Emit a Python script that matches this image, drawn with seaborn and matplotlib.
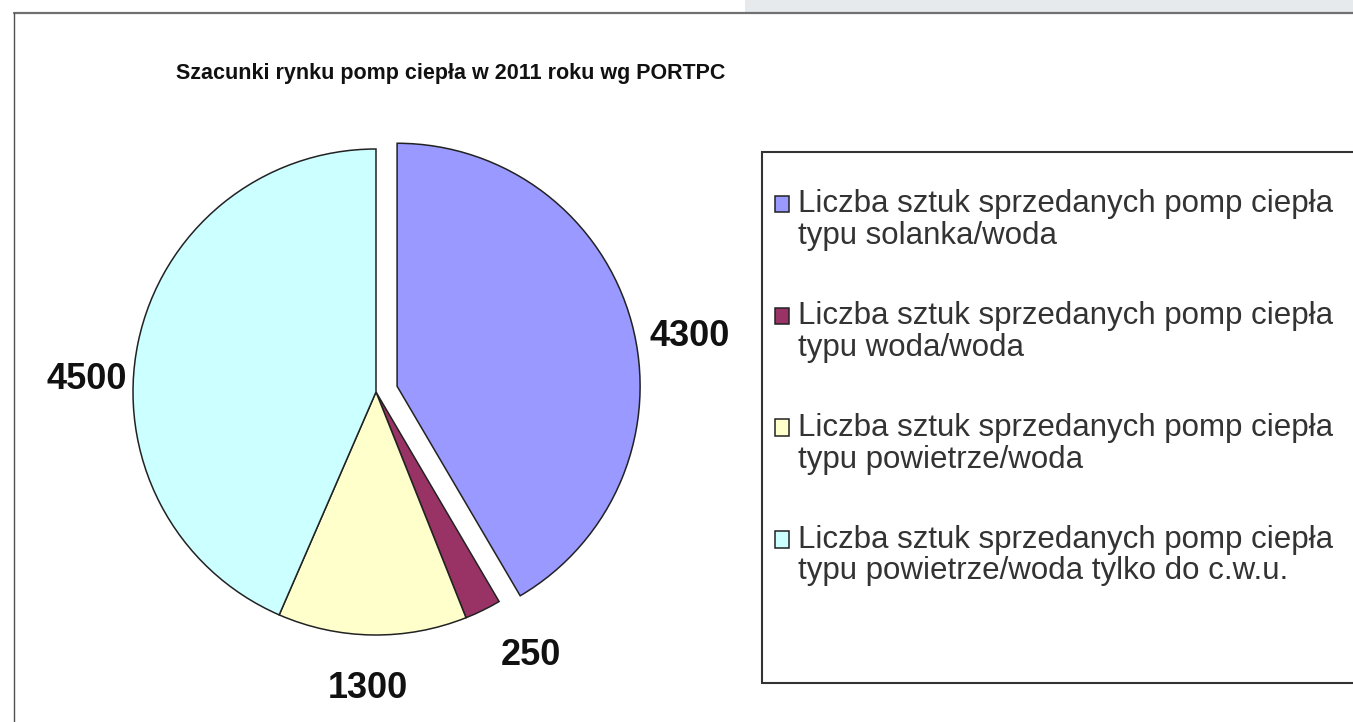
import matplotlib
matplotlib.use("Agg")
import matplotlib.pyplot as plt
from matplotlib.patches import Rectangle
from matplotlib.legend_handler import HandlerPatch
import seaborn as sns
import numpy as np

# data
title = "Szacunki rynku pomp ciepła w 2011 roku wg PORTPC"
counts = [4300, 250, 1300, 4500]
legend_labels = [
    "Liczba sztuk sprzedanych pomp ciepła\ntypu solanka/woda",
    "Liczba sztuk sprzedanych pomp ciepła\ntypu woda/woda",
    "Liczba sztuk sprzedanych pomp ciepła\ntypu powietrze/woda",
    "Liczba sztuk sprzedanych pomp ciepła\ntypu powietrze/woda tylko do c.w.u.",
]
colors = ["#9999FF", "#993366", "#FFFFCC", "#CCFFFF"]
explode = [0.09, 0, 0, 0]

# label placement tweaks (angle shift in degrees, distance in radii)
label_shift = [-5.5, 4.4, -0.7, 9.3]
label_dist = [1.22, 1.26, 1.22, 1.19]

sns.set_style("white")
plt.rcParams["font.family"] = ["Liberation Sans", "DejaVu Sans"]

W, H = 1353, 722
fig = plt.figure(figsize=(W / 100, H / 100), dpi=100)
fig.patch.set_facecolor("white")

# page decoration: grey band and frame lines
fig.patches.append(Rectangle((745 / W, 1 - 13 / H), 1, 13 / H, transform=fig.transFigure,
                             facecolor="#e7eaed", edgecolor="none", zorder=0))
fig.add_artist(plt.Line2D([14 / W, 1], [1 - 13 / H, 1 - 13 / H], color="#707070", lw=1.6))
fig.add_artist(plt.Line2D([14 / W, 14 / W], [0, 1 - 13 / H], color="#505050", lw=1.0))

cx, cy, r = 376, 392, 243
ax = fig.add_axes([(cx - r) / W, (H - cy - r) / H, 2 * r / W, 2 * r / H])
wedges, _ = ax.pie(counts, colors=colors, startangle=90, counterclock=False,
                   explode=explode, radius=1,
                   wedgeprops=dict(edgecolor="#222222", linewidth=1.1))
ax.set_xlim(-1, 1)
ax.set_ylim(-1, 1)
ax.set_aspect("equal")
ax.axis("off")

for w, v, da, dist in zip(wedges, counts, label_shift, label_dist):
    ang = np.deg2rad((w.theta1 + w.theta2) / 2 + da)
    x0, y0 = w.center
    ax.text(x0 + dist * np.cos(ang), y0 + dist * np.sin(ang), str(v),
            ha="center", va="center", fontsize=26, fontweight="bold",
            color="#111111", clip_on=False)

fig.text(451 / W, 1 - 73 / H, title, ha="center", va="center",
         fontsize=15.5, fontweight="bold", color="#111111")

# legend box
fig.patches.append(Rectangle((762 / W, 1 - 683 / H), 700 / W, (683 - 152) / H,
                             transform=fig.transFigure, facecolor="white",
                             edgecolor="#333333", lw=1.5, zorder=1))


def top_square(legend, orig_handle, xdescent, ydescent, width, height, fontsize):
    # square beside the first line of a two-line label
    return Rectangle((-xdescent, -ydescent + 0.52 * fontsize), width, height)


leg = fig.legend(wedges, legend_labels, loc="upper left",
                 bbox_to_anchor=(775 / W, 1 - 189 / H), frameon=False,
                 fontsize=22.5, labelspacing=1.6, handlelength=0.44, handleheight=0.44,
                 handletextpad=0.3, borderaxespad=0, borderpad=0,
                 handler_map={w: HandlerPatch(patch_func=top_square) for w in wedges})
for t in leg.get_texts():
    t.set_color("#333333")
    t.set_linespacing(1.08)

fig.savefig("out.png", dpi=100)
